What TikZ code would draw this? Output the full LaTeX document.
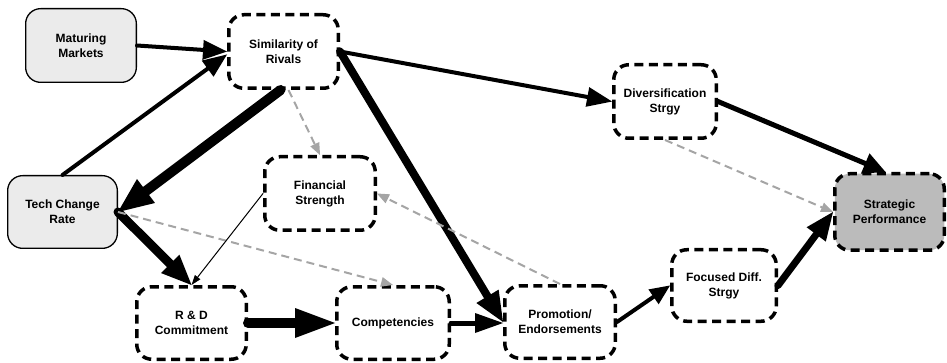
\documentclass[tikz,border=0pt]{standalone}
\usepackage{fontspec}
\setmainfont{Liberation Sans}
\usetikzlibrary{arrows.meta,calc}
\definecolor{dgray}{RGB}{165,165,165}
\definecolor{lbox}{RGB}{235,235,235}
\definecolor{pbox}{RGB}{187,187,187}
\begin{document}
\begin{tikzpicture}[x=1pt,y=-1pt,
  box/.style={rounded corners=15pt, align=center, inner sep=0pt,
    font=\fontsize{12}{15}\selectfont\bfseries},
  dbox/.style={box, draw, line width=3.5pt, dash pattern=on 9pt off 5.5pt, fill=white},
  sbox/.style={box, draw, line width=1.3pt, fill=lbox},
  arr/.style n args={3}{draw=black, line width=#1, line cap=round,
    -{Triangle[length=#2,width=#3,line width=0pt]}},
  garr/.style={draw=dgray, line width=2pt, dash pattern=on 8pt off 5pt,
    -{Triangle[length=12pt,width=10pt,line width=0pt,color=dgray]}}
]
\useasboundingbox (0,0) rectangle (947,363);

\node[sbox, minimum width=110.7pt, minimum height=73.7pt] (mm) at (81,45.5) {Maturing\\Markets};
\node[sbox, minimum width=109.7pt, minimum height=72.7pt] (tech) at (62.5,212) {Tech Change\\Rate};
\node[dbox, minimum width=109.5pt, minimum height=73.5pt] (sim) at (283.5,51.5) {Similarity of\\Rivals};
\node[dbox, minimum width=110.5pt, minimum height=73.5pt] (fin) at (320,193.5) {Financial\\Strength};
\node[dbox, minimum width=109.5pt, minimum height=72.5pt] (rd) at (191.5,323) {R \& D\\Commitment};
\node[dbox, minimum width=112.5pt, minimum height=72.5pt] (comp) at (393,323) {Competencies};
\node[dbox, minimum width=110.5pt, minimum height=72.5pt] (promo) at (560,322) {Promotion/\\Endorsements};
\node[dbox, minimum width=104.5pt, minimum height=71.5pt] (foc) at (724,285.5) {Focused Diff.\\Strgy};
\node[dbox, minimum width=102.5pt, minimum height=73.5pt] (div) at (665,101.5) {Diversification\\Strgy};
\node[dbox, fill=pbox, minimum width=109.5pt, minimum height=76.5pt] (strat) at (889.5,212) {Strategic\\Performance};

\draw[arr={4pt}{24pt}{20pt}] (mm.east) -- (sim.west);
\draw[arr={4pt}{24pt}{20pt}] (tech.north) -- ($(sim.west)+(0,3)$);
\draw[arr={10pt}{35pt}{30pt}] ($(sim.south)+(-3,0)$) -- (tech.east);
\draw[garr] ($(sim.south)+(5,0)$) -- (fin.north);
\draw[arr={4pt}{25pt}{20pt}] (sim.east) -- (div.west);
\draw[arr={8pt}{30pt}{26pt}] (sim.east) -- (promo.west);
\draw[arr={9pt}{30pt}{26pt}] (tech.east) -- (rd.north);
\draw[garr] (tech.east) -- (comp.north);
\draw[arr={1pt}{10pt}{7pt}] (fin.west) -- (rd.north);
\draw[arr={10pt}{40pt}{30pt}] (rd.east) -- (comp.west);
\draw[arr={5pt}{28pt}{20pt}] (comp.east) -- (promo.west |- comp.east);
\draw[garr] (promo.north) -- (fin.east);
\draw[arr={4pt}{20pt}{18pt}] (promo.east) -- (foc.west);
\draw[arr={7pt}{28pt}{24pt}] (foc.east) -- (strat.west);
\draw[arr={5pt}{22pt}{22pt}] (div.east) -- ($(strat.north)+(-4,0)$);
\draw[garr] (div.south) -- (strat.west);
\end{tikzpicture}
\end{document}
